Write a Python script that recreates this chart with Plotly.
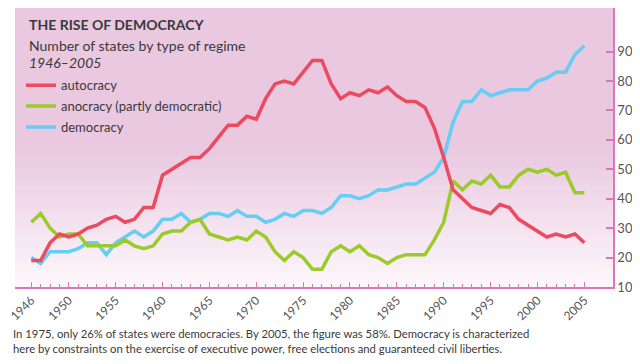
import plotly.graph_objects as go

years = list(range(1946, 2006))
autocracy = [19, 19, 25, 28, 27, 28, 30, 31, 33, 34,
             32, 33, 37, 37, 48, 50, 52, 54, 54, 57,
             61, 65, 65, 68, 67, 74, 79, 80, 79, 83,
             87, 87, 79, 74, 76, 75, 77, 76, 78, 75,
             73, 73, 71, 64, 54, 43, 40, 37, 36, 35,
             38, 37, 33, 31, 29, 27, 28, 27, 28, 25]
anocracy = [32, 35, 30, 27, 28, 28, 24, 24, 24, 24,
            26, 24, 23, 24, 28, 29, 29, 32, 33, 28,
            27, 26, 27, 26, 29, 27, 22, 19, 22, 20,
            16, 16, 22, 24, 22, 24, 21, 20, 18, 20,
            21, 21, 21, 26, 32, 46, 43, 46, 45, 48,
            44, 44, 48, 50, 49, 50, 48, 49, 42, 42]
democracy = [20, 18, 22, 22, 22, 23, 25, 25, 21, 25,
             27, 29, 27, 29, 33, 33, 35, 32, 33, 35,
             35, 34, 36, 34, 34, 32, 33, 35, 34, 36,
             36, 35, 37, 41, 41, 40, 41, 43, 43, 44,
             45, 45, 47, 49, 54, 66, 73, 73, 77, 75,
             76, 77, 77, 77, 80, 81, 83, 83, 89, 92]

x_tick_vals = [1946, 1950, 1955, 1960, 1965, 1970, 1975, 1980, 1985, 1990, 1995, 2000, 2005]
y_tick_vals = [10, 20, 30, 40, 50, 60, 70, 80, 90]

series_names = ["autocracy", "anocracy (partly democratic)", "democracy"]
series_colors = ["#EB4A5F", "#9BCB2B", "#66CDF3"]

caption_lines = [
    "In 1975, only 26% of states were democracies. By 2005, the figure was 58%. Democracy is characterized",
    "here by constraints on the exercise of executive power, free elections and guaranteed civil liberties.",
]

AXIS = "#D877B9"
TEXT = "#3a3a3a"
FONT = "Lato"
CAP_FONT = "Liberation Sans Narrow, Lato"

fig = go.Figure()
for vals, name, color, rank in [(democracy, series_names[2], series_colors[2], 3),
                                (anocracy, series_names[1], series_colors[1], 2),
                                (autocracy, series_names[0], series_colors[0], 1)]:
    fig.add_trace(go.Scatter(x=years, y=vals, mode="lines", name=name,
                             line=dict(color=color, width=3.5), legendgroup=name,
                             legendrank=rank, hoverinfo="skip"))

# gradient background bands
shapes = []
top = (233, 200, 224)
bottom = (253, 247, 251)
split = 0.5
shapes.append(dict(type="rect", xref="x domain", yref="y domain", x0=0, x1=1,
                   y0=split, y1=1, fillcolor="rgb(%d,%d,%d)" % top, line_width=0, layer="below"))
n = 40
for i in range(n):
    t = (i + 0.5) / n
    c = tuple(round(bottom[k] + (top[k] - bottom[k]) * t) for k in range(3))
    shapes.append(dict(type="rect", xref="x domain", yref="y domain", x0=0, x1=1,
                       y0=split * i / n, y1=split * (i + 1) / n + 0.002,
                       fillcolor="rgb(%d,%d,%d)" % c, line_width=0, layer="below"))

annotations = [
    dict(text="<b>THE RISE OF DEMOCRACY</b>", xref="paper", yref="paper", x=0.02, y=0.94,
         xanchor="left", yanchor="middle", showarrow=False, font=dict(family=FONT, size=14, color=TEXT)),
    dict(text="Number of states by type of regime", xref="paper", yref="paper", x=0.02, y=0.866,
         xanchor="left", yanchor="middle", showarrow=False, font=dict(family=FONT, size=14, color=TEXT)),
    dict(text="<i>1946–2005</i>", xref="paper", yref="paper", x=0.02, y=0.804,
         xanchor="left", yanchor="middle", showarrow=False, font=dict(family=FONT, size=14, color=TEXT)),
]
for i, line in enumerate(caption_lines):
    annotations.append(dict(text=line, xref="paper", yref="paper", x=-0.007, y=-0.166 - i * 0.055,
                            xanchor="left", yanchor="middle", align="left", showarrow=False,
                            font=dict(family=CAP_FONT, size=11.3, color=TEXT)))

fig.update_layout(
    width=632, height=356,
    margin=dict(l=7, r=27, t=0, b=77, autoexpand=False),
    paper_bgcolor="white", plot_bgcolor="rgba(0,0,0,0)",
    shapes=shapes, annotations=annotations,
    showlegend=True,
    legend=dict(x=0.01, y=0.777, xanchor="left", yanchor="top", bgcolor="rgba(0,0,0,0)",
                font=dict(family=FONT, size=13, color=TEXT), tracegroupgap=1),
    xaxis=dict(range=[1944.26, 2008.06], tickvals=x_tick_vals, ticktext=[str(v) for v in x_tick_vals],
               tickangle=-45, ticks="inside", ticklen=5, tickcolor=AXIS, tickwidth=1,
               showline=True, linecolor=AXIS, linewidth=1.5, showgrid=False, zeroline=False,
               automargin=False, ticklabeloverflow="allow",
               tickfont=dict(family=FONT, size=12, color="#555"),
               minor=dict(tickvals=years, ticks="inside", ticklen=3, tickcolor=AXIS, showgrid=False)),
    yaxis=dict(range=[10, 104.8], side="right", tickvals=y_tick_vals, ticks="inside", ticklen=7,
               tickcolor=AXIS, tickwidth=1.5, showline=True, linecolor=AXIS, linewidth=1.5,
               showgrid=False, zeroline=False, automargin=False,
               tickfont=dict(family=FONT, size=13, color="#555")),
)

fig.write_html("out.html")
